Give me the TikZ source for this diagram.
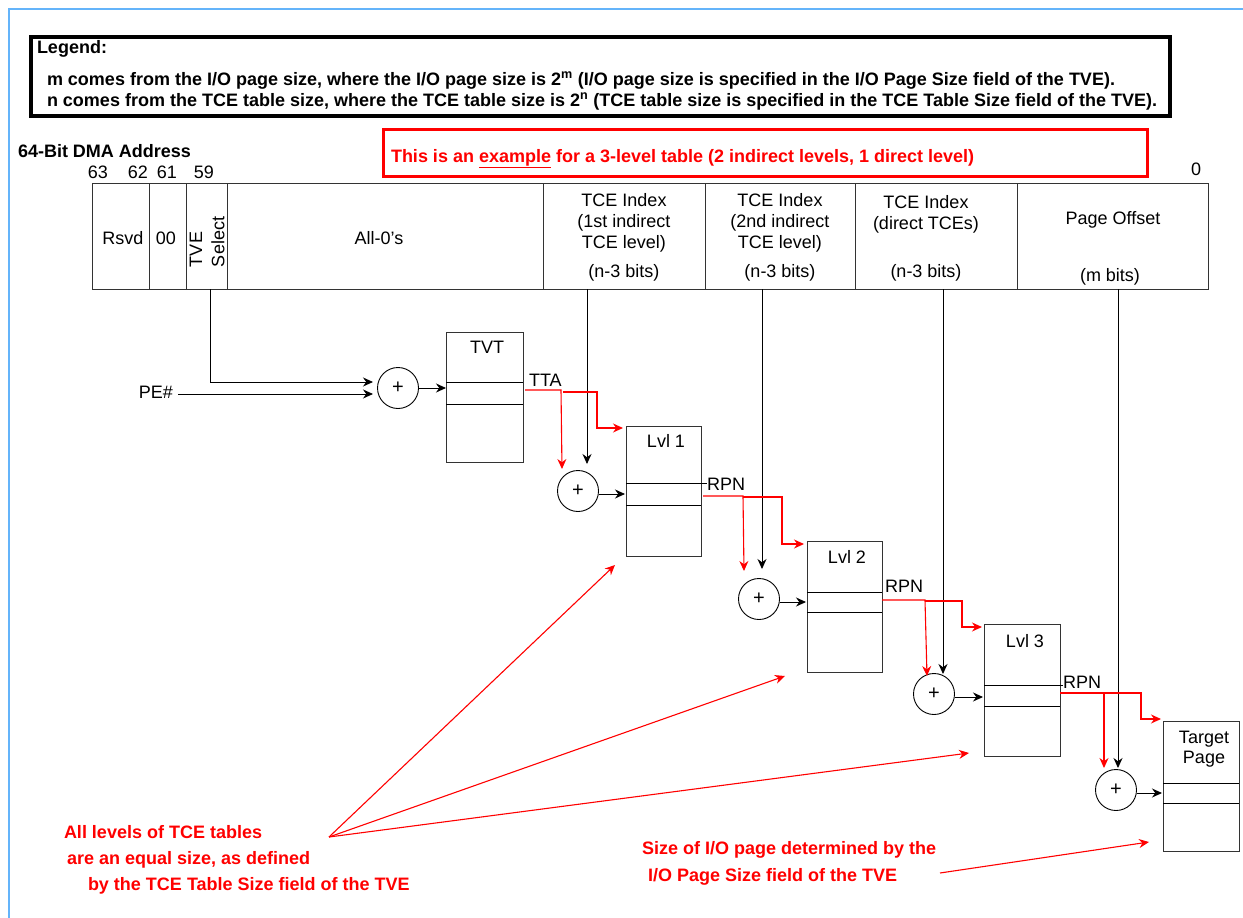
\documentclass[tikz,border=0pt]{standalone}
\usepackage{fontspec}
\setmainfont{Liberation Sans}
\usetikzlibrary{arrows.meta,calc}
\definecolor{frameblue}{RGB}{100,180,250}
\definecolor{ared}{RGB}{255,0,0}
\begin{document}
\begin{tikzpicture}[x=1pt,y=-1pt,
  every node/.style={inner sep=0pt, outer sep=0pt},
  txt/.style={font=\fontsize{18}{21}\selectfont},
  legfont/.style={font=\fontsize{18}{21}\selectfont\bfseries},
  redtxt/.style={font=\fontsize{18}{21}\selectfont\bfseries, text=ared},
  cellbox/.style={draw=black!80, line width=1pt, minimum height=106pt, anchor=north west},
  tbl/.style={draw=black!80, line width=1pt, minimum width=76pt, minimum height=130pt, anchor=north west},
  adder/.style={draw, circle, minimum size=41pt, line width=0.9pt, font=\fontsize{20}{20}\selectfont},
  blk/.style={-{Stealth[length=10pt,width=9pt]}, line width=0.9pt},
  plain/.style={line width=0.9pt},
  rd/.style={ared, line width=1.1pt, -{Stealth[length=10pt,width=9pt]}},
]
\useasboundingbox (0,0) rectangle (1243,918);
% frame
\draw[frameblue, line width=2pt] (9,918) -- (9,9) -- (1243,9);
% legend
\node[draw, line width=3.5pt, minimum width=1139pt, minimum height=79pt, anchor=north west] (legend) at (31,37) {};
\node[legfont, anchor=base west] (legt) at (37,53) {Legend:};
\node[legfont, anchor=base west] (leg1) at (47,85) {m comes from the I/O page size, where the I/O page size is 2\textsuperscript{m} (I/O page size is specified in the I/O Page Size field of the TVE).};
\node[legfont, anchor=base west] (leg2) at (47,106) {n comes from the TCE table size, where the TCE table size is 2\textsuperscript{n} (TCE table size is specified in the TCE Table Size field of the TVE).};
% title and example box
\node[legfont, anchor=base west] (title) at (18,157) {64-Bit DMA Address};
\node[draw=ared, line width=3pt, minimum width=764pt, minimum height=47pt, anchor=north west] (exbox) at (383,129) {};
\node[redtxt, anchor=base west] (ext) at (391,162) {This is an \underline{example} for a 3-level table (2 indirect levels, 1 direct level)};
% bit numbers
\node[txt, anchor=base] (b63) at (98,178) {63};
\node[txt, anchor=base] (b62) at (138,178) {62};
\node[txt, anchor=base] (b61) at (167,178) {61};
\node[txt, anchor=base] (b59) at (204,178) {59};
\node[txt, anchor=base] (b0) at (1196,175) {0};
% address cells
\node[cellbox, minimum width=57pt] (rsvd) at (92,183) {};
\node[cellbox, minimum width=37.5pt] (zz) at (149,183) {};
\node[cellbox, minimum width=40.5pt] (tve) at (186.5,183) {};
\node[cellbox, minimum width=316pt] (all0) at (227,183) {};
\node[cellbox, minimum width=162pt] (tce1) at (543,183) {};
\node[cellbox, minimum width=150pt] (tce2) at (705,183) {};
\node[cellbox, minimum width=162pt] (tce3) at (855,183) {};
\node[cellbox, minimum width=191pt] (poff) at (1017,183) {};
\node[txt, anchor=base] at (123,244) {Rsvd};
\node[txt, anchor=base] at (166,244) {00};
\node[txt, rotate=90, anchor=west] at (196,267) {TVE};
\node[txt, rotate=90, anchor=west] at (218,267) {Select};
\node[txt, anchor=base] at (379,244) {All-0's};
\node[txt, anchor=base] at (624,206) {TCE Index};
\node[txt, anchor=base] at (624,227) {(1st indirect};
\node[txt, anchor=base] at (624,248) {TCE level)};
\node[txt, anchor=base] at (624,277) {(n-3 bits)};
\node[txt, anchor=base] at (780,206) {TCE Index};
\node[txt, anchor=base] at (780,227) {(2nd indirect};
\node[txt, anchor=base] at (780,248) {TCE level)};
\node[txt, anchor=base] at (780,277) {(n-3 bits)};
\node[txt, anchor=base] at (926,208) {TCE Index};
\node[txt, anchor=base] at (926,229) {(direct TCEs)};
\node[txt, anchor=base] at (926,277) {(n-3 bits)};
\node[txt, anchor=base] at (1113,224) {Page Offset};
\node[txt, anchor=base] at (1110,281) {(m bits)};
% adders
\node[adder] (c1) at (398,388) {+};
\node[adder] (c2) at (578,491) {+};
\node[adder] (c3) at (759,599) {+};
\node[adder] (c4) at (934,694) {+};
\node[adder] (c5) at (1116,790) {+};
% tables
\node[tbl, minimum width=77pt] (tvt) at (446,332) {};
\node[tbl, minimum width=75pt] (l1) at (626,426) {};
\node[tbl, minimum width=75pt, minimum height=131pt] (l2) at (807,541) {};
\node[tbl, minimum width=76pt, minimum height=132pt] (l3) at (984,624) {};
\node[tbl, minimum width=76pt] (tp) at (1163,721) {};
\draw[plain] ([yshift=-50pt]tvt.north west) -- ([yshift=-50pt]tvt.north east);
\draw[plain] ([yshift=-72pt]tvt.north west) -- ([yshift=-72pt]tvt.north east);
\draw[plain] ([yshift=-57pt]l1.north west) -- ([yshift=-57pt,xshift=6pt]l1.north east);
\draw[plain] ([yshift=-79pt]l1.north west) -- ([yshift=-79pt]l1.north east);
\draw[plain] ([yshift=-51pt]l2.north west) -- ([yshift=-51pt]l2.north east);
\draw[plain] ([yshift=-71pt]l2.north west) -- ([yshift=-71pt]l2.north east);
\draw[plain] ([yshift=-61pt]l3.north west) -- ([yshift=-61pt,xshift=3pt]l3.north east);
\draw[plain] ([yshift=-82pt]l3.north west) -- ([yshift=-82pt]l3.north east);
\draw[plain] ([yshift=-62pt]tp.north west) -- ([yshift=-62pt]tp.north east);
\draw[plain] ([yshift=-82pt]tp.north west) -- ([yshift=-82pt]tp.north east);
\node[txt, anchor=base] at (487,353) {TVT};
\node[txt, anchor=base] at (666,447) {Lvl 1};
\node[txt, anchor=base] at (847,563) {Lvl 2};
\node[txt, anchor=base] at (1025,647) {Lvl 3};
\node[txt, anchor=base] at (1204,743) {Target};
\node[txt, anchor=base] at (1204,763) {Page};
% labels
\node[txt, anchor=base west] (tta) at (529,386) {TTA};
\node[txt, anchor=base west] (rpn1) at (707,490) {RPN};
\node[txt, anchor=base west] (rpn2) at (885,592) {RPN};
\node[txt, anchor=base west] (rpn3) at (1063,688) {RPN};
\node[txt, anchor=base east] (pe) at (173,398) {PE\#};
% black connectors
\draw[blk] (210,289) -- (210,382) -- (373,382);
\draw[blk] (pe.east |- 0,394) ++(5,0) -- (373,394);
\draw[blk] (c1.east) -- (c1.east -| tvt.west);
\draw[blk] (c2.east) ++(0,3) -- (625,494);
\draw[blk] (c3.east) ++(0,3) -- (806,602);
\draw[blk] (c4.east) ++(0,3) -- (983,697);
\draw[blk] (c5.east) ++(0,3) -- (1162,793);
\draw[blk] (587,289) -- (587,464);
\draw[blk] (762,289) -- (762,569);
\draw[blk] (943,289) -- (943,674);
\draw[blk] (1118,289) -- (1118,768);
% red routing
\draw[rd] (525,390) -- (561,390) -- (562,469);
\draw[rd] (563,392) -- (597,392) -- (597,428) -- (623,428);
\draw[rd] (703,496) -- (743,496) -- (744,571);
\draw[rd] (743,497) -- (782,497) -- (782,544) -- (804,544);
\draw[rd] (882,600) -- (925,600) -- (927,676);
\draw[rd] (925,601) -- (962,601) -- (962,627) -- (982,627);
\draw[rd] (1060,693) -- (1104,693) -- (1104,768);
\draw[rd] (1104,693) -- (1141,693) -- (1141,719) -- (1161,719);
% annotations
\coordinate (ann) at (329,837);
\draw[rd] (ann) -- (615,565);
\draw[rd] (ann) -- (785,676);
\draw[rd] (ann) -- (969,753);
\node[redtxt, anchor=base west] at (64,838) {All levels of TCE tables};
\node[redtxt, anchor=base west] at (67,864) {are an equal size, as defined};
\node[redtxt, anchor=base west] at (88,890) {by the TCE Table Size field of the TVE};
\node[redtxt, anchor=base west] at (642,854) {Size of I/O page determined by the};
\node[redtxt, anchor=base west] (ann2t) at (648,881) {I/O Page Size field of the TVE};
\draw[rd] (940,873) -- (1149,842);
\end{tikzpicture}
\end{document}
